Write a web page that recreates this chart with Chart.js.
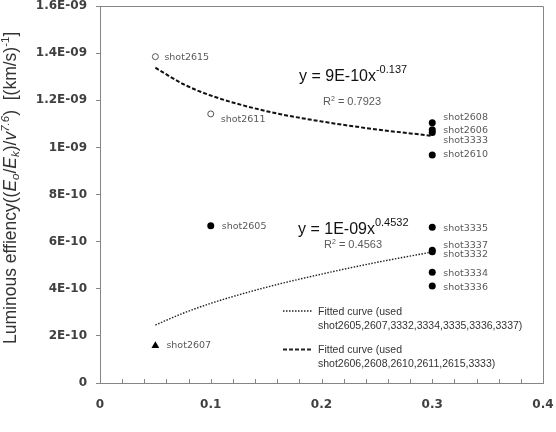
<!DOCTYPE html>
<html>
<head>
<meta charset="utf-8">
<script src="https://cdn.jsdelivr.net/npm/chart.js@4.4.1/dist/chart.umd.min.js"></script>
<style>
html,body{margin:0;padding:0;background:#fff;}
#wrap{width:556px;height:432px;}
</style>
</head>
<body>
<div id="wrap"><canvas id="c" width="556" height="432"></canvas></div>
<script>
// ---- data ----
const openX = [0.05, 0.1];
const openY = [1.385e-9, 1.142e-9];
const openNames = ['shot2615', 'shot2611'];

const filledX = [0.1, 0.3, 0.3, 0.3, 0.3, 0.3, 0.3, 0.3, 0.3, 0.3];
const filledY = [0.667e-9, 1.105e-9, 1.075e-9, 1.063e-9, 0.968e-9, 0.661e-9, 0.563e-9, 0.557e-9, 0.470e-9, 0.412e-9];
const filledNames = ['shot2605', 'shot2608', 'shot2606', 'shot3333', 'shot2610', 'shot3335', 'shot3337', 'shot3332', 'shot3334', 'shot3336'];

const triX = [0.05];
const triY = [0.158e-9];
const triNames = ['shot2607'];

// fitted curves
const fitX = [0.05, 0.075, 0.1, 0.15, 0.2, 0.25, 0.3];
const fitUpperY = [1.338e-9, 1.269e-9, 1.220e-9, 1.154e-9, 1.110e-9, 1.076e-9, 1.049e-9];
const fitLowerY = [0.246e-9, 0.296e-9, 0.338e-9, 0.406e-9, 0.462e-9, 0.512e-9, 0.556e-9];

const xTickValues = [0, 0.1, 0.2, 0.3, 0.4];
const xTickLabels = ['0', '0.1', '0.2', '0.3', '0.4'];
const yTickValues = [0, 0.2e-9, 0.4e-9, 0.6e-9, 0.8e-9, 1.0e-9, 1.2e-9, 1.4e-9, 1.6e-9];
const yTickLabels = ['0', '2E-10', '4E-10', '6E-10', '8E-10', '1E-09', '1.2E-09', '1.4E-09', '1.6E-09'];
const xMinorStep = 0.02;

// label offsets (pixels), styling only
const labelOffsets = {
  shot2615: [9, 1], shot2611: [10, 6], shot2605: [11, 1], shot2607: [11, 0],
  shot2608: [11, -5], shot2606: [11, 1], shot3333: [11, 8], shot2610: [11, 0],
  shot3335: [11, 1], shot3337: [11, -5], shot3332: [11, 3], shot3334: [11, 1], shot3336: [11, 2]
};

const AXIS = '#868686';
const pts = (xs, ys) => xs.map((x, i) => ({x: x, y: ys[i]}));

function drawRich(ctx, x, y, segs) {
  let cx = x;
  for (const s of segs) {
    ctx.font = s.f;
    ctx.fillStyle = s.c || ctx.fillStyle;
    ctx.fillText(s.t, cx, y + (s.dy || 0));
    cx += ctx.measureText(s.t).width;
  }
  return cx;
}

const decor = {
  id: 'decor',
  afterDraw(chart) {
    const ctx = chart.ctx;
    const a = chart.chartArea;
    const xs = chart.scales.x, ys = chart.scales.y;
    ctx.save();
    // top & right frame
    ctx.strokeStyle = AXIS; ctx.lineWidth = 1;
    ctx.beginPath();
    ctx.moveTo(a.left, Math.round(a.top) + 0.5);
    ctx.lineTo(Math.round(a.right) + 0.5, Math.round(a.top) + 0.5);
    ctx.lineTo(Math.round(a.right) + 0.5, a.bottom);
    ctx.stroke();
    // x ticks inward
    ctx.beginPath();
    for (let v = xMinorStep; v < 0.4 - 1e-9; v += xMinorStep) {
      const px = Math.round(xs.getPixelForValue(v)) + 0.5;
      ctx.moveTo(px, a.bottom);
      ctx.lineTo(px, a.bottom - 4);
    }
    ctx.stroke();

    // point labels
    ctx.font = '9.5px "DejaVu Sans"';
    ctx.fillStyle = '#595959';
    ctx.textBaseline = 'middle';
    const groups = [[openX, openY, openNames], [filledX, filledY, filledNames], [triX, triY, triNames]];
    for (const [gx, gy, gn] of groups) {
      gn.forEach((n, i) => {
        const off = labelOffsets[n] || [10, 0];
        ctx.fillText(n, xs.getPixelForValue(gx[i]) + off[0], ys.getPixelForValue(gy[i]) + off[1]);
      });
    }

    // equations
    ctx.textBaseline = 'alphabetic';
    ctx.fillStyle = '#111';
    drawRich(ctx, 299, 81, [
      {t: 'y = 9E-10x', f: '16px "Liberation Sans"', c: '#111'},
      {t: '-0.137', f: '11px "Liberation Sans"', dy: -8}
    ]);
    drawRich(ctx, 323, 105, [
      {t: 'R', f: '11px "Liberation Sans"', c: '#595959'},
      {t: '2', f: '7px "Liberation Sans"', dy: -4},
      {t: ' = 0.7923', f: '11px "Liberation Sans"'}
    ]);
    drawRich(ctx, 298, 234, [
      {t: 'y = 1E-09x', f: '16px "Liberation Sans"', c: '#111'},
      {t: '0.4532', f: '11px "Liberation Sans"', dy: -8}
    ]);
    drawRich(ctx, 324, 248, [
      {t: 'R', f: '11px "Liberation Sans"', c: '#595959'},
      {t: '2', f: '7px "Liberation Sans"', dy: -4},
      {t: ' = 0.4563', f: '11px "Liberation Sans"'}
    ]);

    // legend
    ctx.strokeStyle = '#222';
    ctx.lineWidth = 1.4; ctx.setLineDash([1.5, 1.5]);
    ctx.beginPath(); ctx.moveTo(283, 311); ctx.lineTo(313, 311); ctx.stroke();
    ctx.lineWidth = 2; ctx.setLineDash([4, 2]);
    ctx.beginPath(); ctx.moveTo(283, 349.5); ctx.lineTo(313, 349.5); ctx.stroke();
    ctx.setLineDash([]);
    ctx.fillStyle = '#333';
    ctx.font = '10.5px "Liberation Sans"';
    ctx.fillText('Fitted curve (used', 318, 315);
    ctx.fillText('shot2605,2607,3332,3334,3335,3336,3337)', 318, 329);
    ctx.fillText('Fitted curve (used', 318, 353);
    ctx.fillText('shot2606,2608,2610,2611,2615,3333)', 318, 367);

    // y-axis title
    ctx.translate(16, 344);
    ctx.rotate(-Math.PI / 2);
    ctx.fillStyle = '#333';
    const N = '17.5px "Liberation Sans"', I = 'italic 17.5px "Liberation Sans"', S = '11.5px "Liberation Sans"', SI = 'italic 11.5px "Liberation Sans"';
    drawRich(ctx, 0, 0, [
      {t: 'Luminous effiency((', f: N},
      {t: 'E', f: I}, {t: 'o', f: SI, dy: 3},
      {t: '/', f: N},
      {t: 'E', f: I}, {t: 'k', f: SI, dy: 3},
      {t: ')/', f: N},
      {t: 'v', f: I}, {t: '7.6', f: SI, dy: -7},
      {t: ')  [(km/s)', f: N},
      {t: '-1', f: S, dy: -7},
      {t: ']', f: N}
    ]);
    ctx.restore();
  }
};

new Chart(document.getElementById('c'), {
  type: 'scatter',
  data: {
    datasets: [
      {data: pts(openX, openY), pointStyle: 'circle', pointRadius: 3, borderColor: '#555', borderWidth: 1, backgroundColor: '#fff'},
      {data: pts(filledX, filledY), pointStyle: 'circle', pointRadius: 3.5, borderColor: '#000', borderWidth: 0, backgroundColor: '#000'},
      {data: pts(triX, triY), pointStyle: 'triangle', pointRadius: 4.5, borderColor: '#000', borderWidth: 0, backgroundColor: '#000'},
      {data: pts(fitX, fitUpperY), showLine: true, pointRadius: 0, borderColor: '#111', borderWidth: 2, borderDash: [4, 2], cubicInterpolationMode: 'monotone', fill: false},
      {data: pts(fitX, fitLowerY), showLine: true, pointRadius: 0, borderColor: '#222', borderWidth: 1.4, borderDash: [1.5, 1.5], cubicInterpolationMode: 'monotone', fill: false}
    ]
  },
  options: {
    responsive: false,
    animation: false,
    layout: {padding: {left: 0, right: 13, top: 6, bottom: 0}},
    plugins: {legend: {display: false}, tooltip: {enabled: false}},
    scales: {
      x: {
        type: 'linear', min: 0, max: 0.4,
        afterBuildTicks: s => { s.ticks = xTickValues.map(v => ({value: v})); },
        afterFit: s => { s.height = 49; s.paddingLeft = 0; s.paddingRight = 0; },
        grid: {display: false, drawTicks: false},
        border: {display: true, color: AXIS, width: 1},
        ticks: {padding: 15, color: '#404040', font: {family: 'DejaVu Sans', size: 12, weight: 'bold'},
          callback: (v, i) => xTickLabels[i]}
      },
      y: {
        type: 'linear', min: 0, max: 1.6e-9,
        afterBuildTicks: s => { s.ticks = yTickValues.map(v => ({value: v})); },
        afterFit: s => { s.width = 100; s.paddingTop = 0; s.paddingBottom = 0; },
        grid: {display: true, drawOnChartArea: false, drawTicks: true, tickLength: 4, color: AXIS},
        border: {display: true, color: AXIS, width: 1},
        ticks: {padding: 9, color: '#404040', font: {family: 'DejaVu Sans', size: 12, weight: 'bold'},
          callback: (v, i) => yTickLabels[i]}
      }
    }
  },
  plugins: [decor]
});
</script>
</body>
</html>
